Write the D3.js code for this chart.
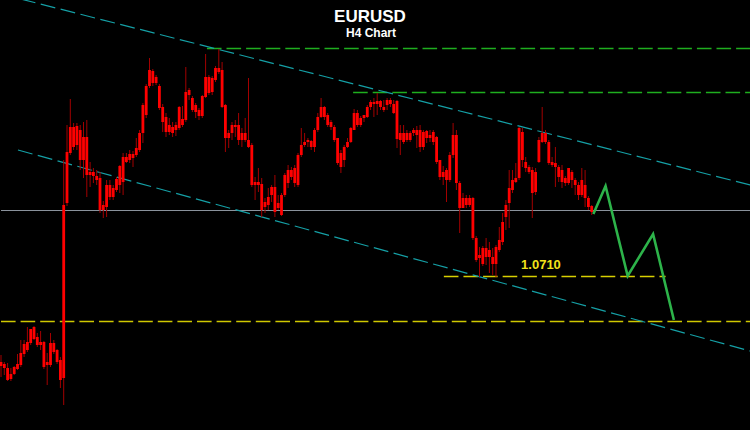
<!DOCTYPE html>
<html>
<head>
<meta charset="utf-8">
<script src="https://cdn.jsdelivr.net/npm/d3@7/dist/d3.min.js"></script>
<style>
html,body{margin:0;padding:0;background:#000;}
svg{display:block;}
</style>
</head>
<body>
<svg id="chart" width="750" height="430"></svg>
<script>
// ---- Data (EURUSD H4 candles) ----
const opens = [1.0620,1.0622,1.0618,1.0607,1.0612,1.0617,1.0621,1.0632,1.0636,1.0643,1.0659,1.0649,1.0641,1.0644,1.0621,1.0621,1.0643,1.0636,1.0626,1.0608,
1.0783,1.0833,1.0859,1.0841,1.0856,1.0826,1.0849,1.0811,1.0814,1.0810,1.0808,1.0776,1.0779,1.0801,1.0789,1.0796,1.0801,1.0804,1.0829,1.0826,
1.0828,1.0831,1.0836,1.0853,1.0871,1.0900,1.0915,1.0903,1.0900,1.0879,1.0869,1.0854,1.0859,1.0856,1.0858,1.0867,1.0866,1.0896,1.0888,1.0881,
1.0876,1.0870,1.0889,1.0909,1.0894,1.0906,1.0918,1.0916,1.0881,1.0848,1.0853,1.0861,1.0861,1.0846,1.0853,1.0846,1.0841,1.0801,1.0804,1.0802,
1.0779,1.0781,1.0791,1.0799,1.0778,1.0771,1.0791,1.0803,1.0816,1.0803,1.0801,1.0831,1.0841,1.0844,1.0845,1.0839,1.0856,1.0869,1.0879,1.0871,
1.0864,1.0859,1.0848,1.0833,1.0826,1.0839,1.0844,1.0856,1.0873,1.0861,1.0868,1.0869,1.0879,1.0884,1.0882,1.0885,1.0879,1.0881,1.0886,1.0882,
1.0885,1.0846,1.0853,1.0846,1.0853,1.0853,1.0856,1.0839,1.0854,1.0848,1.0851,1.0844,1.0849,1.0826,1.0814,1.0806,1.0806,1.0831,1.0851,1.0803,
1.0778,1.0788,1.0781,1.0788,1.0748,1.0728,1.0722,1.0738,1.0729,1.0729,1.0722,1.0736,1.0744,1.0769,1.0783,1.0796,1.0804,1.0808,1.0854,1.0824,
1.0819,1.0816,1.0794,1.0824,1.0844,1.0853,1.0844,1.0824,1.0823,1.0819,1.0816,1.0808,1.0803,1.0814,1.0806,1.0801,1.0791,1.0801,1.0788,1.0780];
const highs = [1.0631,1.0624,1.0623,1.0618,1.0620,1.0632,1.0646,1.0646,1.0659,1.0657,1.0660,1.0653,1.0655,1.0645,1.0633,1.0653,1.0646,1.0637,1.0629,1.0826,
1.0861,1.0887,1.0863,1.0863,1.0861,1.0864,1.0866,1.0824,1.0818,1.0816,1.0814,1.0785,1.0806,1.0806,1.0801,1.0809,1.0821,1.0833,1.0833,1.0836,
1.0835,1.0848,1.0856,1.0883,1.0902,1.0928,1.0917,1.0911,1.0902,1.0882,1.0873,1.0868,1.0864,1.0864,1.0880,1.0880,1.0919,1.0898,1.0890,1.0883,
1.0878,1.0891,1.0932,1.0911,1.0910,1.0920,1.0937,1.0924,1.0882,1.0856,1.0864,1.0866,1.0873,1.0858,1.0868,1.0908,1.0843,1.0809,1.0818,1.0808,
1.0788,1.0798,1.0801,1.0811,1.0791,1.0793,1.0813,1.0821,1.0819,1.0821,1.0833,1.0858,1.0853,1.0848,1.0846,1.0858,1.0873,1.0888,1.0880,1.0873,
1.0866,1.0861,1.0848,1.0836,1.0841,1.0848,1.0859,1.0877,1.0876,1.0870,1.0871,1.0881,1.0886,1.0888,1.0893,1.0886,1.0886,1.0888,1.0888,1.0886,
1.0886,1.0861,1.0861,1.0856,1.0855,1.0858,1.0860,1.0861,1.0856,1.0856,1.0856,1.0856,1.0850,1.0826,1.0820,1.0818,1.0834,1.0863,1.0856,1.0805,
1.0793,1.0791,1.0791,1.0789,1.0750,1.0739,1.0740,1.0748,1.0744,1.0738,1.0741,1.0759,1.0773,1.0786,1.0816,1.0816,1.0823,1.0859,1.0858,1.0829,
1.0821,1.0819,1.0818,1.0849,1.0879,1.0856,1.0846,1.0829,1.0839,1.0821,1.0821,1.0810,1.0818,1.0816,1.0808,1.0804,1.0818,1.0816,1.0790,1.0781];
const lows = [1.0609,1.0611,1.0605,1.0605,1.0611,1.0616,1.0619,1.0629,1.0634,1.0641,1.0646,1.0639,1.0636,1.0617,1.0601,1.0619,1.0632,1.0622,1.0598,1.0581,
1.0780,1.0831,1.0836,1.0836,1.0816,1.0808,1.0789,1.0799,1.0803,1.0801,1.0773,1.0768,1.0769,1.0786,1.0786,1.0794,1.0793,1.0791,1.0823,1.0823,
1.0819,1.0829,1.0834,1.0843,1.0868,1.0898,1.0900,1.0901,1.0876,1.0854,1.0849,1.0851,1.0849,1.0850,1.0856,1.0859,1.0864,1.0886,1.0874,1.0868,
1.0866,1.0868,1.0888,1.0891,1.0891,1.0904,1.0912,1.0878,1.0834,1.0838,1.0846,1.0849,1.0841,1.0839,1.0844,1.0838,1.0799,1.0786,1.0794,1.0769,
1.0773,1.0776,1.0784,1.0769,1.0776,1.0770,1.0789,1.0798,1.0806,1.0799,1.0799,1.0829,1.0839,1.0839,1.0836,1.0834,1.0854,1.0868,1.0866,1.0859,
1.0856,1.0844,1.0821,1.0813,1.0819,1.0838,1.0843,1.0856,1.0859,1.0859,1.0864,1.0868,1.0876,1.0869,1.0871,1.0876,1.0874,1.0876,1.0879,1.0872,
1.0838,1.0831,1.0842,1.0844,1.0844,1.0850,1.0838,1.0834,1.0836,1.0843,1.0844,1.0841,1.0822,1.0806,1.0801,1.0784,1.0804,1.0828,1.0796,1.0753,
1.0778,1.0778,1.0779,1.0746,1.0724,1.0709,1.0720,1.0721,1.0713,1.0711,1.0709,1.0734,1.0741,1.0756,1.0758,1.0793,1.0803,1.0806,1.0819,1.0814,
1.0812,1.0768,1.0791,1.0823,1.0843,1.0842,1.0821,1.0819,1.0799,1.0804,1.0798,1.0800,1.0801,1.0798,1.0791,1.0786,1.0789,1.0779,1.0776,1.0771];
const closes = [1.0624,1.0618,1.0606,1.0612,1.0619,1.0622,1.0633,1.0642,1.0644,1.0657,1.0647,1.0641,1.0644,1.0619,1.0624,1.0643,1.0634,1.0624,1.0606,1.0781,
1.0834,1.0859,1.0839,1.0860,1.0826,1.0849,1.0811,1.0814,1.0810,1.0806,1.0776,1.0781,1.0801,1.0789,1.0798,1.0807,1.0820,1.0829,1.0824,1.0832,
1.0832,1.0838,1.0853,1.0881,1.0900,1.0916,1.0903,1.0909,1.0878,1.0864,1.0854,1.0861,1.0853,1.0861,1.0879,1.0861,1.0894,1.0891,1.0876,1.0874,
1.0870,1.0890,1.0909,1.0893,1.0908,1.0918,1.0914,1.0879,1.0848,1.0853,1.0861,1.0859,1.0846,1.0853,1.0846,1.0839,1.0801,1.0804,1.0801,1.0776,
1.0784,1.0789,1.0799,1.0774,1.0783,1.0791,1.0811,1.0816,1.0809,1.0818,1.0831,1.0841,1.0844,1.0846,1.0839,1.0856,1.0869,1.0879,1.0869,1.0861,
1.0859,1.0846,1.0823,1.0819,1.0839,1.0844,1.0858,1.0873,1.0861,1.0868,1.0871,1.0879,1.0884,1.0882,1.0885,1.0879,1.0876,1.0886,1.0882,1.0873,
1.0847,1.0853,1.0844,1.0853,1.0846,1.0856,1.0851,1.0856,1.0839,1.0855,1.0848,1.0854,1.0824,1.0809,1.0809,1.0816,1.0831,1.0851,1.0803,1.0778,
1.0788,1.0781,1.0788,1.0748,1.0726,1.0731,1.0738,1.0729,1.0736,1.0722,1.0739,1.0746,1.0764,1.0781,1.0798,1.0806,1.0808,1.0858,1.0826,1.0818,
1.0814,1.0793,1.0814,1.0846,1.0853,1.0844,1.0823,1.0821,1.0819,1.0809,1.0804,1.0803,1.0818,1.0806,1.0801,1.0791,1.0806,1.0788,1.0779,1.0774];

// Horizontal levels [price, startIndex, endIndex]
const levelPrices = [1.0938, 1.0894, 1.0776, 1.0710, 1.0665];
const levelStarts = [62.4, 106.7, 0, 134.2, 0];
const levelEnds   = [227, 227, 227, 201.4, 227];
// Channel lines [index, price]
const upperChannel = [[0, 1.0992], [227, 1.0801]];
const lowerChannel = [[5.15, 1.0836], [227, 1.0635]];
// Projected path [index, price]
const projection = [[179.5, 1.0772], [183.2, 1.0800], [189.9, 1.0710], [197.6, 1.0752], [203.9, 1.0666]];
const targetLabel = "1.0710";
const titleText = "EURUSD";
const subtitleText = "H4 Chart";

// ---- Drawing ----
const W = 750, H = 430;
const svg = d3.select("#chart");
svg.append("rect").attr("width", W).attr("height", H).attr("fill", "#000");

const x = d3.scaleLinear().domain([0, 227]).range([1, 750.1]);
const y = d3.scaleLinear().domain([1.0556, 1.0986]).range([430, 0]);

const candles = opens.map((o, i) => ({i, o, h: highs[i], l: lows[i], c: closes[i]}));

// Horizontal levels
const levelStyles = [
  {stroke: "#1fae1f", dash: "14.6,5", w: 1.3},
  {stroke: "#1fae1f", dash: "14.6,5", w: 1.3},
  {stroke: "#8a929c", dash: null, w: 1},
  {stroke: "#d8cf00", dash: "14.6,5", w: 1.5},
  {stroke: "#cfc800", dash: "14.6,5", w: 1.5}
];
const lv = svg.append("g");
levelPrices.forEach((p, k) => {
  const st = levelStyles[k];
  const ln = lv.append("line")
    .attr("x1", x(levelStarts[k])).attr("x2", x(levelEnds[k]))
    .attr("y1", Math.round(y(p)) + 0.5).attr("y2", Math.round(y(p)) + 0.5)
    .attr("stroke", st.stroke).attr("stroke-width", st.w);
  if (st.dash) ln.attr("stroke-dasharray", st.dash);
});

// Channel lines
const lineGen = d3.line().x(d => x(d[0])).y(d => y(d[1]));
[upperChannel, lowerChannel].forEach(ch => {
  svg.append("path").attr("d", lineGen(ch))
    .attr("fill", "none").attr("stroke", "#15a0a6").attr("stroke-width", 1.2)
    .attr("stroke-dasharray", "15,5.5");
});

// Candles
const cg = svg.append("g");
cg.selectAll("line.wick").data(candles).join("line")
  .attr("class", "wick")
  .attr("x1", d => x(d.i)).attr("x2", d => x(d.i))
  .attr("y1", d => y(Math.max(d.h, d.o, d.c)))
  .attr("y2", d => y(Math.min(d.l, d.o, d.c)))
  .attr("stroke", "#a30000").attr("stroke-width", 1);
cg.selectAll("rect.body").data(candles).join("rect")
  .attr("class", "body")
  .attr("x", d => x(d.i) - 1.4)
  .attr("width", 2.8)
  .attr("y", d => y(Math.max(d.o, d.c)))
  .attr("height", d => Math.max(1, Math.abs(y(d.o) - y(d.c))))
  .attr("fill", "#ff0000");

// Projection
svg.append("path").attr("d", lineGen(projection))
  .attr("fill", "none").attr("stroke", "#2db34a").attr("stroke-width", 2.6)
  .attr("stroke-linejoin", "miter");

// Target label
svg.append("text").attr("x", x(157.6)).attr("y", y(1.0710) - 7)
  .attr("fill", "#f2e21a").attr("font-family", "Liberation Sans, Arial, sans-serif")
  .attr("font-weight", "bold").attr("font-size", 13).text(targetLabel);

// Titles
svg.append("text").attr("x", 370).attr("y", 22).attr("text-anchor", "middle")
  .attr("fill", "#fff").attr("font-family", "Liberation Sans, Arial, sans-serif")
  .attr("font-weight", "bold").attr("font-size", 17).text(titleText);
svg.append("text").attr("x", 371).attr("y", 37).attr("text-anchor", "middle")
  .attr("fill", "#fff").attr("font-family", "Liberation Sans, Arial, sans-serif")
  .attr("font-weight", "bold").attr("font-size", 12).text(subtitleText);
</script>
</body>
</html>
